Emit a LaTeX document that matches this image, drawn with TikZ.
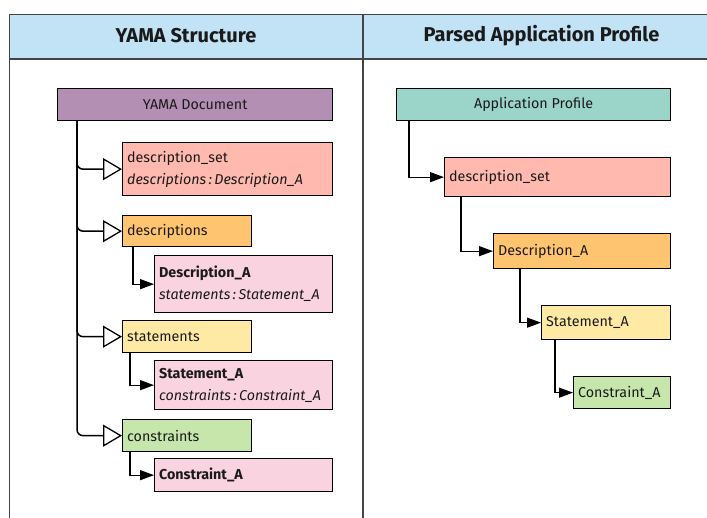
\documentclass[tikz,border=0pt]{standalone}
\usepackage{fontspec}
\setmainfont{Fira Sans}
\usetikzlibrary{arrows.meta,calc}
\definecolor{hdr}{HTML}{C2E3F5}
\definecolor{cpurple}{HTML}{B48FB4}
\definecolor{csalmon}{HTML}{FFB9AE}
\definecolor{corange}{HTML}{FFC470}
\definecolor{cpink}{HTML}{F9D3DF}
\definecolor{cyellow}{HTML}{FFEAA5}
\definecolor{cgreen}{HTML}{C6E6AB}
\definecolor{cteal}{HTML}{9BD5C9}
\definecolor{frame}{HTML}{444444}
\definecolor{ink}{HTML}{1A1A1A}
\newcommand{\ofcls}{\,:\,}
\begin{document}
\begin{tikzpicture}[x=1pt,y=-1pt,
  box/.style={draw=black, line width=1.3pt, inner xsep=4.5pt, inner ysep=0pt,
    anchor=north west, text=ink, font=\fontsize{14.3}{22}\selectfont},
  lbox/.style={box, align=left},
  cbox/.style={box, align=center},
  title/.style={text=ink, font=\fontsize{20}{24}\selectfont\bfseries},
  gen/.style={draw=black, line width=1.5pt, rounded corners=6pt,
    -{Triangle[open, length=19pt, width=22pt, line width=1.3pt]}},
  ptr/.style={draw=black, line width=1.3pt,
    -{Triangle[length=14pt, width=10pt]}}]
\useasboundingbox (0,0) rectangle (707,517);
\clip (0,0) rectangle (707,517);
% frame and header
\fill[hdr] (9.5,14.5) rectangle (720,59);
\draw[frame, line width=1.2pt] (9.5,540) -- (9.5,14.5) -- (730,14.5);
\draw[frame, line width=1.2pt] (9.5,59) -- (730,59);
\draw[frame, line width=1.2pt] (363,14.5) -- (363,540);
\node[title] (t1) at (186,36) {YAMA Structure};
\node[title] (t2) at (541.5,36) {Parsed Application Profile};
% left column
\node[cbox, fill=cpurple, minimum width=275pt, minimum height=32pt] (yama) at (57,88) {YAMA Document};
\node[lbox, fill=csalmon, minimum width=210pt, minimum height=53pt, text width=201pt] (dset) at (122,142)
  {\mbox{description\_set}\\\mbox{\itshape descriptions\ofcls Description\_A}};
\node[lbox, fill=corange, minimum width=129pt, minimum height=31pt, text width=120pt] (descs) at (122,215)
  {\mbox{descriptions}};
\node[lbox, fill=cpink, minimum width=178pt, minimum height=57pt, text width=169pt] (descA) at (154,255)
  {\mbox{\bfseries Description\_A}\\\mbox{\itshape statements\ofcls Statement\_A}};
\node[lbox, fill=cyellow, minimum width=129pt, minimum height=32pt, text width=120pt] (stmts) at (122,320)
  {\mbox{statements}};
\node[lbox, fill=cpink, minimum width=178pt, minimum height=49pt, text width=169pt] (stmtA) at (154,360)
  {\mbox{\bfseries Statement\_A}\\\mbox{\itshape constraints\ofcls Constraint\_A}};
\node[lbox, fill=cgreen, minimum width=129pt, minimum height=32pt, text width=120pt] (cons) at (122,419)
  {\mbox{constraints}};
\node[lbox, fill=cpink, minimum width=178pt, minimum height=33pt, text width=169pt] (consA) at (154,458)
  {\mbox{\bfseries Constraint\_A}};
% left connectors
\draw[gen] ($(yama.south west)+(20,0)$) |- (dset.west);
\draw[gen] ($(yama.south west)+(20,0)$) |- (descs.west);
\draw[gen] ($(yama.south west)+(20,0)$) |- (stmts.west);
\draw[gen] ($(yama.south west)+(20,0)$) |- (cons.west);
\draw[ptr] ($(descs.south west)+(11,0)$) |- (descA.west);
\draw[ptr] ($(stmts.south west)+(8,0)$) |- (stmtA.west);
\draw[ptr] ($(cons.south west)+(8,0)$) |- (consA.west);
% right column
\node[cbox, fill=cteal, minimum width=274pt, minimum height=32pt] (ap) at (396,88) {Application Profile};
\node[lbox, fill=csalmon, minimum width=226pt, minimum height=39pt, text width=217pt] (rdset) at (444,157)
  {\mbox{description\_set}};
\node[lbox, fill=corange, minimum width=177pt, minimum height=35pt, text width=168pt] (rdescA) at (493,233)
  {\mbox{Description\_A}};
\node[lbox, fill=cyellow, minimum width=129pt, minimum height=34pt, text width=120pt] (rstmtA) at (541,305)
  {\mbox{Statement\_A}};
\node[lbox, fill=cgreen, minimum width=97pt, minimum height=32pt, text width=88pt] (rconsA) at (573,376)
  {\mbox{Constraint\_A}};
\draw[ptr] ($(ap.south west)+(13,0)$) |- (rdset.west);
\draw[ptr] ($(rdset.south west)+(17,0)$) |- (rdescA.west);
\draw[ptr] ($(rdescA.south west)+(27,0)$) |- (rstmtA.west);
\draw[ptr] ($(rstmtA.south west)+(14,0)$) |- (rconsA.west);
\end{tikzpicture}
\end{document}
